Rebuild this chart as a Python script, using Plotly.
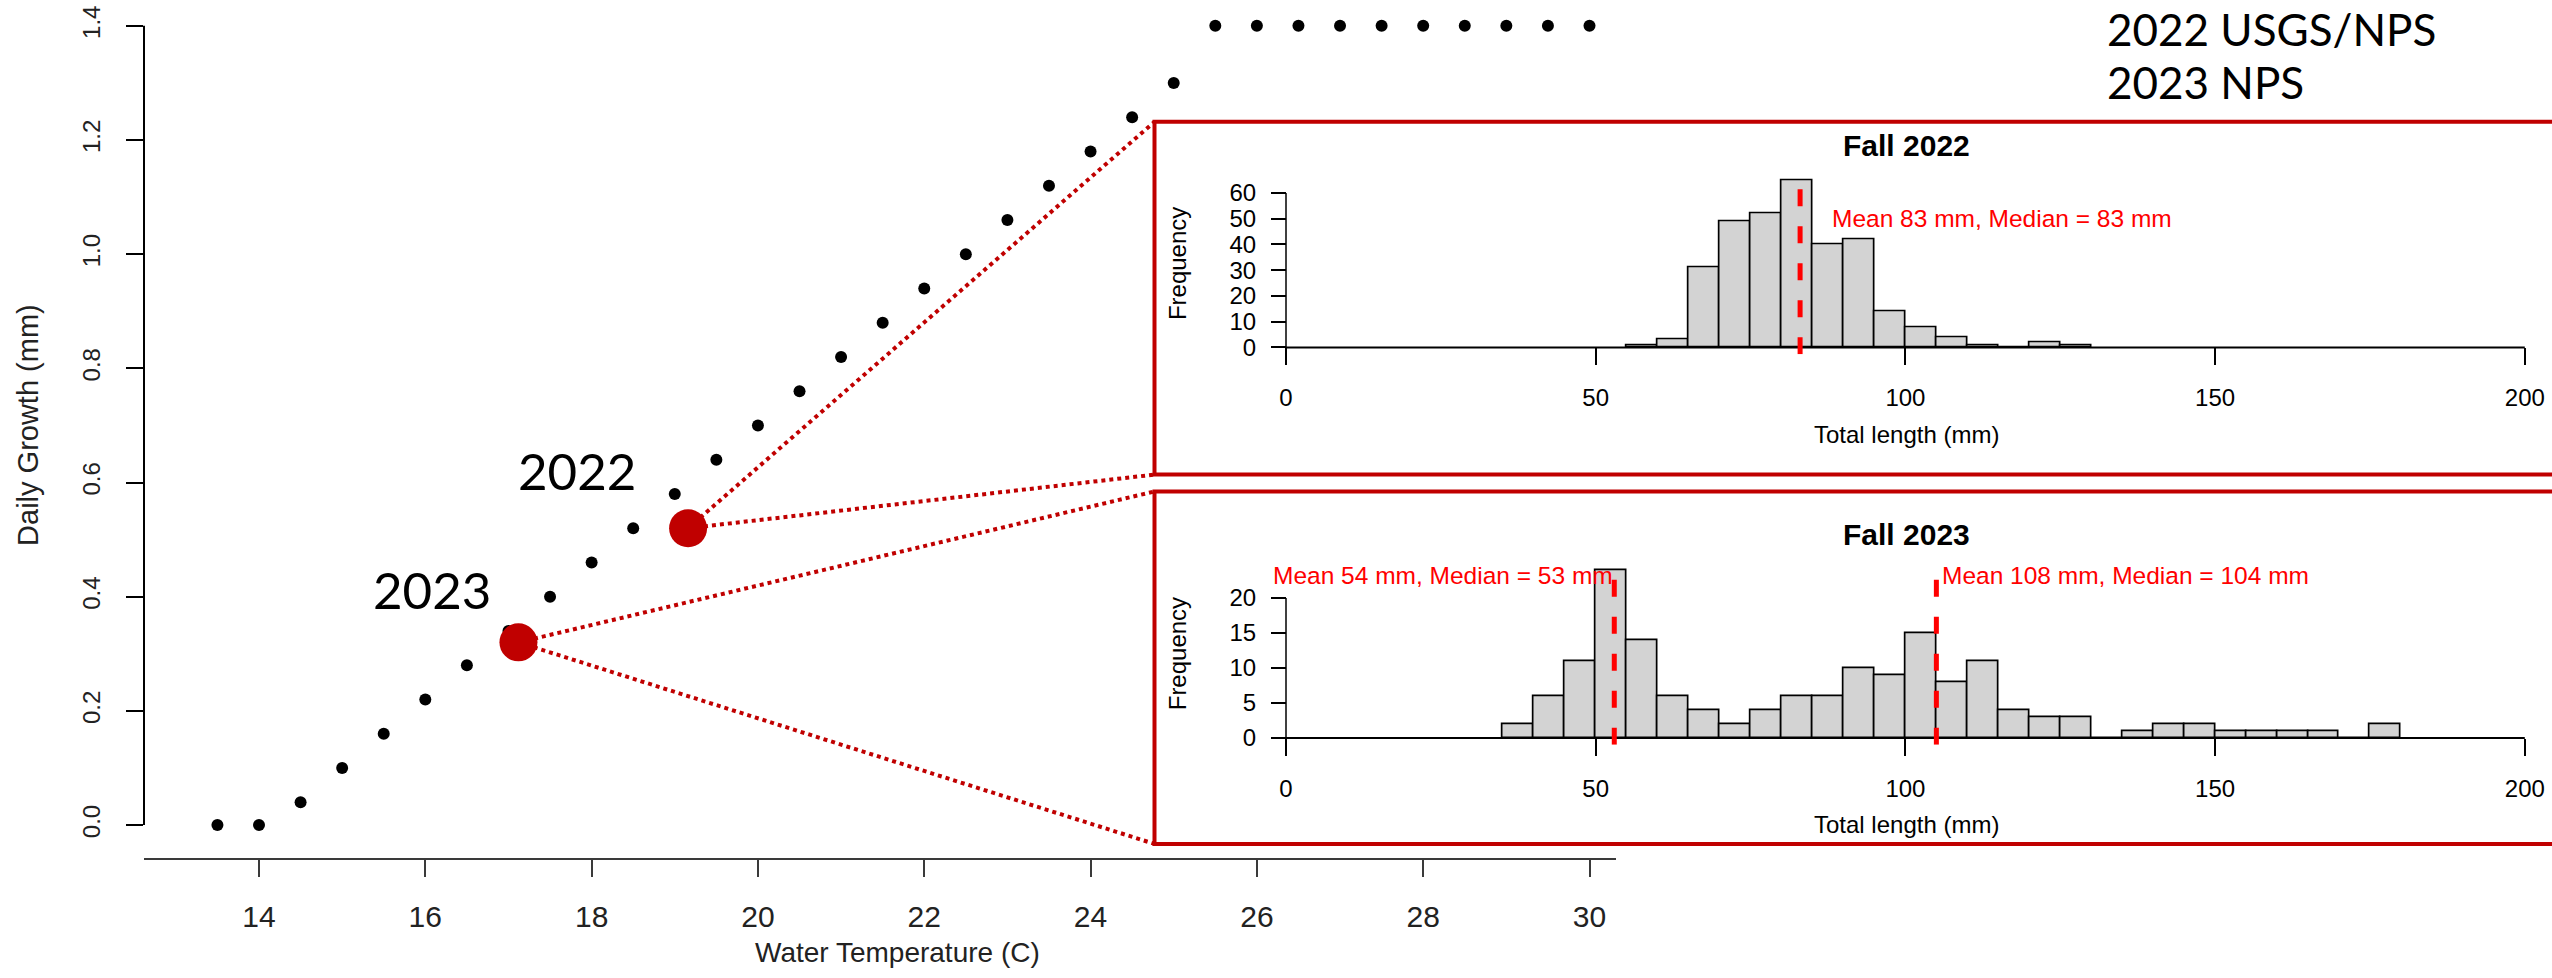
import plotly.graph_objects as go

# ---------------- data ----------------
temperature = [13.5, 14.0, 14.5, 15.0, 15.5, 16.0, 16.5, 17.0, 17.5, 18.0, 18.5, 19.0,
               19.5, 20.0, 20.5, 21.0, 21.5, 22.0, 22.5, 23.0, 23.5, 24.0, 24.5, 25.0,
               25.5, 26.0, 26.5, 27.0, 27.5, 28.0, 28.5, 29.0, 29.5, 30.0]
daily_growth = [0.00, 0.00, 0.04, 0.10, 0.16, 0.22, 0.28, 0.34, 0.40, 0.46, 0.52, 0.58,
                0.64, 0.70, 0.76, 0.82, 0.88, 0.94, 1.00, 1.06, 1.12, 1.18, 1.24, 1.30,
                1.40, 1.40, 1.40, 1.40, 1.40, 1.40, 1.40, 1.40, 1.40, 1.40]

highlight_year = ["2022", "2023"]
highlight_temp = [19.16, 17.12]
highlight_growth = [0.52, 0.32]

x_ticks_main = [14, 16, 18, 20, 22, 24, 26, 28, 30]
y_ticks_main = [0.0, 0.2, 0.4, 0.6, 0.8, 1.0, 1.2, 1.4]
y_ticklabels_main = ["0.0", "0.2", "0.4", "0.6", "0.8", "1.0", "1.2", "1.4"]

bin_width = 5
fall2022_bin_start = [55, 60, 65, 70, 75, 80, 85, 90, 95, 100, 105, 110, 115, 120, 125]
fall2022_counts = [1, 3, 31, 49, 52, 65, 40, 42, 14, 8, 4, 1, 0, 2, 1]
fall2022_median = [83]
fall2022_labels = ["Mean 83 mm, Median = 83 mm"]

fall2023_bin_start = [35, 40, 45, 50, 55, 60, 65, 70, 75, 80, 85, 90, 95, 100, 105, 110,
                      115, 120, 125, 130, 135, 140, 145, 150, 155, 160, 165, 170, 175]
fall2023_counts = [2, 6, 11, 24, 14, 6, 4, 2, 4, 6, 6, 10, 9, 15, 8, 11,
                   4, 3, 3, 0, 1, 2, 2, 1, 1, 1, 1, 0, 2]
fall2023_medians = [53, 105]
fall2023_labels = ["Mean 54 mm, Median = 53 mm", "Mean 108 mm, Median = 104 mm"]

hist_x_ticks = [0, 50, 100, 150, 200]
hist2022_y_ticks = [0, 10, 20, 30, 40, 50, 60]
hist2023_y_ticks = [0, 5, 10, 15, 20]

# ---------------- geometry helpers ----------------
W, H = 2552, 978
DARK_RED = "#C00000"
RSANS = "Liberation Sans, Arial, sans-serif"
LATO = "Lato, Open Sans, sans-serif"


def fx(p):
    return p / W


def fy(p):
    return 1 - p / H


# main axes calibration: value -> pixel
MX0, MPX0, MX1, MPX1 = 14, 259.0, 30, 1589.5
MY0, MPY0, MY1, MPY1 = 0.0, 831.0, 1.4, 26.0


def main_v_from_px_x(p):
    return MX0 + (p - MPX0) * (MX1 - MX0) / (MPX1 - MPX0)


def main_v_from_px_y(p):
    return MY0 + (p - MPY0) * (MY1 - MY0) / (MPY1 - MPY0)


main_dom_x = (144.0, 1616.0)
main_dom_y = (864.0, 0.0)

# histogram panels geometry
HX0, HPX0, HX1, HPX1 = 0, 1286.0, 200, 2524.8
hist_dom_x_px = (1236.5, W)


def hist_v_from_px_x(p):
    return HX0 + (p - HPX0) * (HX1 - HX0) / (HPX1 - HPX0)


def hist_y_setup(counts, p_zero, p_per_unit):
    top = max(counts)
    lo, hi = -0.04 * top, 1.04 * top
    dom = [fy(p_zero - lo * p_per_unit), fy(p_zero - hi * p_per_unit)]
    return [lo, hi], dom, fy(p_zero)


h22_range, h22_dom, h22_pos = hist_y_setup(fall2022_counts, 350.0, 2.595)
h23_range, h23_dom, h23_pos = hist_y_setup(fall2023_counts, 743.3, 7.05)

box22 = (1154.5, 122.7, 478.0)  # left, top, bottom (px)
box23 = (1154.5, 495.0, 850.0)

fig = go.Figure()

# connector dotted lines from highlighted points to inset boxes
cx, cy = [], []
for (tx, ty), box in zip(zip(highlight_temp, highlight_growth), [box22, box23]):
    bx = main_v_from_px_x(box[0])
    for by_px in (box[1], box[2]):
        cx += [tx, bx, None]
        cy += [ty, main_v_from_px_y(by_px), None]
fig.add_trace(go.Scatter(x=cx, y=cy, mode="lines", xaxis="x", yaxis="y",
                         line=dict(color=DARK_RED, width=4, dash="dot"),
                         hoverinfo="skip", showlegend=False))

fig.add_trace(go.Scatter(x=temperature, y=daily_growth, mode="markers",
                         marker=dict(color="black", size=12), showlegend=False,
                         xaxis="x", yaxis="y"))
fig.add_trace(go.Scatter(x=highlight_temp, y=highlight_growth, mode="markers",
                         marker=dict(color=DARK_RED, size=38), showlegend=False,
                         xaxis="x", yaxis="y"))

# histograms
fig.add_trace(go.Bar(x=[b + bin_width / 2 for b in fall2022_bin_start], y=fall2022_counts,
                     width=bin_width, marker=dict(color="#D3D3D3", line=dict(color="black", width=1.7)),
                     xaxis="x2", yaxis="y2", showlegend=False))
fig.add_trace(go.Bar(x=[b + bin_width / 2 for b in fall2023_bin_start], y=fall2023_counts,
                     width=bin_width, marker=dict(color="#D3D3D3", line=dict(color="black", width=1.7)),
                     xaxis="x3", yaxis="y3", showlegend=False))

tickfont_h = dict(family=RSANS, size=24, color="black")

fig.update_layout(
    width=W, height=H,
    margin=dict(l=0, r=0, t=0, b=0),
    paper_bgcolor="white", plot_bgcolor="rgba(0,0,0,0)",
    bargap=0, showlegend=False,
    xaxis=dict(domain=[fx(main_dom_x[0]), fx(main_dom_x[1])],
               range=[main_v_from_px_x(main_dom_x[0]), main_v_from_px_x(main_dom_x[1])],
               anchor="y", showline=True, linecolor="#3a3a3a", linewidth=2,
               ticks="outside", ticklen=17, tickwidth=2, tickcolor="#3a3a3a",
               tickvals=x_ticks_main, tickfont=dict(family=RSANS, size=30, color="#222"),
               ticklabelstandoff=14,
               showgrid=False, zeroline=False),
    yaxis=dict(domain=[fy(main_dom_y[0]), fy(main_dom_y[1])],
               range=[main_v_from_px_y(main_dom_y[0]), main_v_from_px_y(main_dom_y[1])],
               anchor="x", showline=False,
               ticks="outside", ticklen=17, tickwidth=2, tickcolor="black",
               tickvals=y_ticks_main, ticktext=y_ticklabels_main, tickangle=-90,
               tickfont=dict(family=RSANS, size=24, color="#222"),
               ticklabelstandoff=16,
               showgrid=False, zeroline=False),
    xaxis2=dict(domain=[fx(hist_dom_x_px[0]), 1],
                range=[hist_v_from_px_x(hist_dom_x_px[0]), hist_v_from_px_x(hist_dom_x_px[1])],
                anchor="free", position=h22_pos, showline=False,
                ticks="outside", ticklen=17, tickwidth=1.5, tickcolor="black",
                tickvals=hist_x_ticks, tickfont=tickfont_h, ticklabelstandoff=12,
                showgrid=False, zeroline=False),
    yaxis2=dict(domain=h22_dom, range=h22_range, anchor="free", position=fx(HPX0),
                ticks="outside", ticklen=15, tickwidth=1.5, tickcolor="black",
                tickvals=hist2022_y_ticks, tickfont=tickfont_h, ticklabelstandoff=10,
                showgrid=False, zeroline=False, showline=False),
    xaxis3=dict(domain=[fx(hist_dom_x_px[0]), 1],
                range=[hist_v_from_px_x(hist_dom_x_px[0]), hist_v_from_px_x(hist_dom_x_px[1])],
                anchor="free", position=h23_pos, showline=False,
                ticks="outside", ticklen=17, tickwidth=1.5, tickcolor="black",
                tickvals=hist_x_ticks, tickfont=tickfont_h, ticklabelstandoff=12,
                showgrid=False, zeroline=False),
    yaxis3=dict(domain=h23_dom, range=h23_range, anchor="free", position=fx(HPX0),
                ticks="outside", ticklen=15, tickwidth=1.5, tickcolor="black",
                tickvals=hist2023_y_ticks, tickfont=tickfont_h, ticklabelstandoff=10,
                showgrid=False, zeroline=False, showline=False),
)

shapes = []
# main y axis line (tick to tick)
shapes.append(dict(type="line", xref="paper", yref="y", x0=fx(main_dom_x[0]), x1=fx(main_dom_x[0]),
                   y0=y_ticks_main[0], y1=y_ticks_main[-1], line=dict(color="black", width=2)))
# histogram axis lines and median lines
for xa, ya, yt, yr, meds in [("x2", "y2", hist2022_y_ticks, h22_range, fall2022_median),
                             ("x3", "y3", hist2023_y_ticks, h23_range, fall2023_medians)]:
    shapes.append(dict(type="line", xref=xa, yref=ya, x0=hist_x_ticks[0], x1=hist_x_ticks[-1],
                       y0=0, y1=0, line=dict(color="black", width=2.2)))
    shapes.append(dict(type="line", xref=xa, yref=ya, x0=0, x1=0, y0=yt[0], y1=yt[-1],
                       line=dict(color="black", width=1.5)))
    for m in meds:
        shapes.append(dict(type="line", xref=xa, yref=ya, x0=m, x1=m, y0=yr[0], y1=yr[1],
                           line=dict(color="#FF0000", width=5, dash="17px,20px")))
# red inset boxes
for left, top, bottom in (box22, box23):
    shapes.append(dict(type="rect", xref="paper", yref="paper", x0=fx(left), x1=1.01,
                       y0=fy(bottom), y1=fy(top), line=dict(color=DARK_RED, width=4),
                       fillcolor="rgba(0,0,0,0)"))
fig.update_layout(shapes=shapes)

ann = []


def A(text, x, y, size, family=RSANS, color="black", xanchor="center", angle=0, bold=False,
      xref="paper", yref="paper"):
    ann.append(dict(text=f"<b>{text}</b>" if bold else text, x=x, y=y, xref=xref, yref=yref,
                    xanchor=xanchor, yanchor="middle", showarrow=False, textangle=angle,
                    font=dict(family=family, size=size, color=color)))


# main plot titles
A("Water Temperature (C)", fx(897), fy(959), 28, color="#222")
A("Daily Growth (mm)", fx(28), fy(428), 29, color="#222", angle=-90)
for yr_lbl, px_, py_ in zip(highlight_year, [577, 432], [474, 594]):
    A(yr_lbl, fx(px_), fy(py_), 51, family=LATO)
A("2022 USGS/NPS", fx(2105), fy(29), 44, family=LATO, xanchor="left")
A("2023 NPS", fx(2105), fy(83), 44, family=LATO, xanchor="left")

# histogram titles
A("Fall 2022", fx(1906), fy(146.7), 30, bold=True)
A("Total length (mm)", fx(1906), fy(438), 24)
A("Frequency", fx(1177), fy(266), 24, angle=-90)
A("Fall 2023", fx(1906), fy(538), 30, bold=True)
A("Total length (mm)", fx(1906), fy(830), 24)
A("Frequency", fx(1177), fy(659), 24, angle=-90)

# median annotations
A(fall2022_labels[0], 87.8, 50, 24.5, color="#FF0000", xanchor="left", xref="x2", yref="y2")
A(fall2023_labels[0], -2.4, 23.2, 24.5, color="#FF0000", xanchor="left", xref="x3", yref="y3")
A(fall2023_labels[1], 105.6, 23.2, 24.5, color="#FF0000", xanchor="left", xref="x3", yref="y3")

fig.update_layout(annotations=ann)

fig.write_html("out.html", config={"displayModeBar": False},
               post_script="document.body.style.margin='0px';")
